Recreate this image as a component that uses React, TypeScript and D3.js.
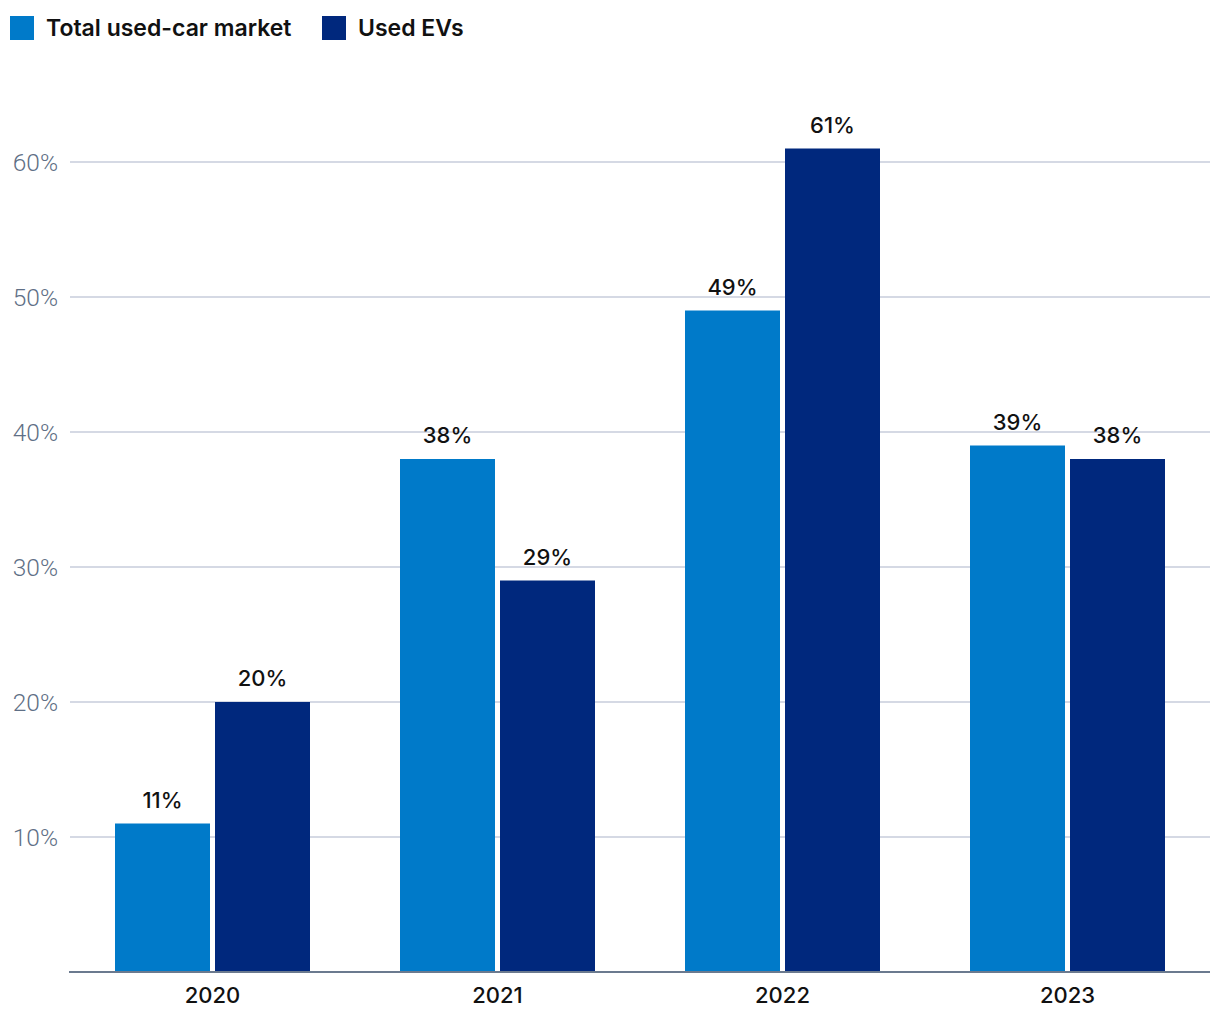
import * as d3 from 'd3';
import React, { useRef, useEffect } from 'react';

const years = ['2020', '2021', '2022', '2023'];
const totalMarket = [11, 38, 49, 39];
const usedEVs = [20, 29, 61, 38];
const seriesNames = ['Total used-car market', 'Used EVs'];
const seriesColors = ['#007ac9', '#00287d'];
const yTicks = [10, 20, 30, 40, 50, 60];

const App = () => {
    const svgRef = useRef<SVGSVGElement>(null);

    useEffect(() => {
        const width = 1220;
        const height = 1020;
        const margin = { top: 27, right: 10, bottom: 48, left: 70 };

        const svg = d3.select(svgRef.current);
        svg.selectAll('*').remove();

        const x = d3.scaleBand().domain(years).range([margin.left, width - margin.right]).paddingInner(0).paddingOuter(0);
        const y = d3.scaleLinear().domain([0, 70]).range([height - margin.bottom, margin.top]);

        // two bars per year, 95px wide with a 5px gap
        const inner = d3.scaleBand().domain(['0', '1']).range([45, x.bandwidth() - 45]).paddingInner(0.05);

        // gridlines
        const grid = svg.append('g');
        grid.selectAll('line')
            .data(yTicks)
            .join('line')
            .attr('x1', margin.left)
            .attr('x2', width - margin.right)
            .attr('y1', (d: any) => y(d))
            .attr('y2', (d: any) => y(d))
            .attr('stroke', '#d5d9e4')
            .attr('stroke-width', 2);

        grid.selectAll('text')
            .data(yTicks)
            .join('text')
            .attr('x', 58)
            .attr('y', (d: any) => y(d))
            .attr('dy', '0.36em')
            .attr('text-anchor', 'end')
            .attr('fill', '#5f6f86')
            .style('font-family', 'Roboto, sans-serif')
            .style('font-weight', 300)
            .style('font-size', '24.5px')
            .text((d: any) => `${d}%`);

        const data = years.map((yr, i) => ({ year: yr, values: [totalMarket[i], usedEVs[i]] }));

        const groups = svg.append('g')
            .selectAll('g')
            .data(data)
            .join('g')
            .attr('transform', (d: any) => `translate(${x(d.year)},0)`);

        groups.selectAll('rect')
            .data((d: any) => d.values.map((v: number, k: number) => ({ v, k })))
            .join('rect')
            .attr('x', (d: any) => inner(String(d.k)) as number)
            .attr('width', inner.bandwidth())
            .attr('y', (d: any) => y(d.v))
            .attr('height', (d: any) => y(0) - y(d.v))
            .attr('fill', (d: any) => seriesColors[d.k]);

        groups.selectAll('text')
            .data((d: any) => d.values.map((v: number, k: number) => ({ v, k })))
            .join('text')
            .attr('x', (d: any) => (inner(String(d.k)) as number) + inner.bandwidth() / 2)
            .attr('y', (d: any) => y(d.v) - 16)
            .attr('text-anchor', 'middle')
            .attr('fill', '#111')
            .style('font-family', 'Inter, sans-serif')
            .style('font-weight', 500)
            .style('font-size', '22px')
            .text((d: any) => `${d.v}%`);

        // baseline axis
        svg.append('line')
            .attr('x1', margin.left - 1)
            .attr('x2', width - margin.right)
            .attr('y1', y(0))
            .attr('y2', y(0))
            .attr('stroke', '#6b7a8f')
            .attr('stroke-width', 2);

        svg.append('g')
            .selectAll('text')
            .data(years)
            .join('text')
            .attr('x', (d: any) => (x(d) as number) + x.bandwidth() / 2)
            .attr('y', 1003)
            .attr('text-anchor', 'middle')
            .attr('fill', '#111')
            .style('font-family', 'Inter, sans-serif')
            .style('font-weight', 500)
            .style('font-size', '22px')
            .text((d: any) => d);

        // legend
        const legendX = [10, 322];
        const legend = svg.append('g')
            .selectAll('g')
            .data(seriesNames)
            .join('g')
            .attr('transform', (_d: any, i: number) => `translate(${legendX[i]},16)`);

        legend.append('rect')
            .attr('width', 24)
            .attr('height', 24)
            .attr('fill', (_d: any, i: number) => seriesColors[i]);

        legend.append('text')
            .attr('x', 36)
            .attr('y', 20)
            .attr('fill', '#111')
            .style('font-family', 'Inter, sans-serif')
            .style('font-weight', 600)
            .style('font-size', '23px')
            .text((d: any) => d);
    }, []);

    return (
        <svg
            ref={svgRef}
            width={1220}
            height={1020}
            style={{ position: 'absolute', left: 0, top: 0, background: '#fff' }}
        />
    );
};

export default App;
